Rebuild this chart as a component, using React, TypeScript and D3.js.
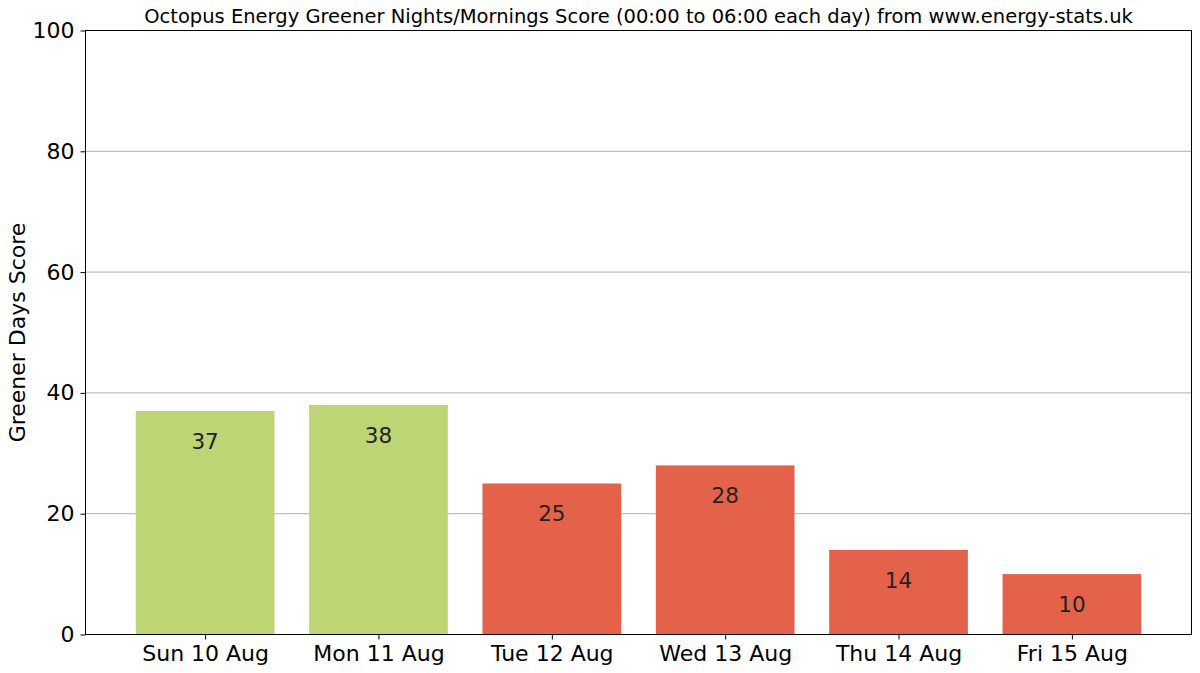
import { useEffect, useRef } from 'react'
import * as d3 from 'd3'

const days = ['Sun 10 Aug', 'Mon 11 Aug', 'Tue 12 Aug', 'Wed 13 Aug', 'Thu 14 Aug', 'Fri 15 Aug']
const scores = [37, 38, 25, 28, 14, 10]
const barColors = ['#bdd574', '#bdd574', '#e5624a', '#e5624a', '#e5624a', '#e5624a']
const yTicks = [0, 20, 40, 60, 80, 100]
const title = 'Octopus Energy Greener Nights/Mornings Score (00:00 to 06:00 each day) from www.energy-stats.uk'

export default function App() {
  const ref = useRef<SVGSVGElement>(null)

  useEffect(() => {
    const svg = d3.select(ref.current!)
    svg.selectAll('*').remove()
    const W = 1200, H = 673, m = { t: 30.5, r: 8.5, b: 38.5, l: 85.5 }
    const iW = W - m.l - m.r, iH = H - m.t - m.b
    const font = 'DejaVu Sans, sans-serif'
    svg.attr('width', W).attr('height', H)
    const g = svg.append('g').attr('transform', `translate(${m.l},${m.t})`)

    const n = days.length
    const x = d3.scaleLinear().domain([-0.69, n - 1 + 0.69]).range([0, iW])
    const y = d3.scaleLinear().domain([0, 100]).range([iH, 0])
    const bw = x(0.8) - x(0)

    // grid under bars
    g.selectAll(null).data(yTicks.slice(1, -1)).enter().append('line')
      .attr('x1', 0).attr('x2', iW).attr('y1', d => y(d)).attr('y2', d => y(d))
      .attr('stroke', '#b0b0b0').attr('stroke-width', 1)

    g.selectAll(null).data(scores).enter().append('rect')
      .attr('x', (_, i) => x(i) - bw / 2).attr('width', bw)
      .attr('y', d => y(d)).attr('height', d => iH - y(d))
      .attr('fill', (_, i) => barColors[i])

    g.selectAll(null).data(scores).enter().append('text')
      .attr('x', (_, i) => x(i)).attr('y', d => y(d - 5)).attr('dy', '0.36em')
      .attr('text-anchor', 'middle').attr('font-family', font).attr('font-size', 21.5)
      .attr('fill', '#222').text(d => d)

    g.append('rect').attr('width', iW).attr('height', iH)
      .attr('fill', 'none').attr('stroke', '#000').attr('stroke-width', 1)

    const xa = g.append('g').attr('transform', `translate(0,${iH})`)
      .call(d3.axisBottom(x).tickValues(d3.range(n)).tickFormat(i => days[+i]).tickSize(5).tickPadding(6))
    const ya = g.append('g')
      .call(d3.axisLeft(y).tickValues(yTicks).tickSize(5).tickPadding(6))
    for (const a of [xa, ya]) {
      a.select('.domain').remove()
      a.selectAll('line').attr('stroke', '#000')
      a.selectAll('text').attr('font-family', font).attr('font-size', 22).attr('fill', '#000')
    }

    svg.append('text').attr('x', m.l + iW / 2).attr('y', 23)
      .attr('text-anchor', 'middle').attr('font-family', font).attr('font-size', 19.5)
      .text(title)

    svg.append('text').attr('transform', `translate(25,${m.t + iH / 2}) rotate(-90)`)
      .attr('text-anchor', 'middle').attr('font-family', font).attr('font-size', 22)
      .text('Greener Days Score')
  }, [])

  return <svg ref={ref} style={{ display: 'block', margin: -8 }} />
}
